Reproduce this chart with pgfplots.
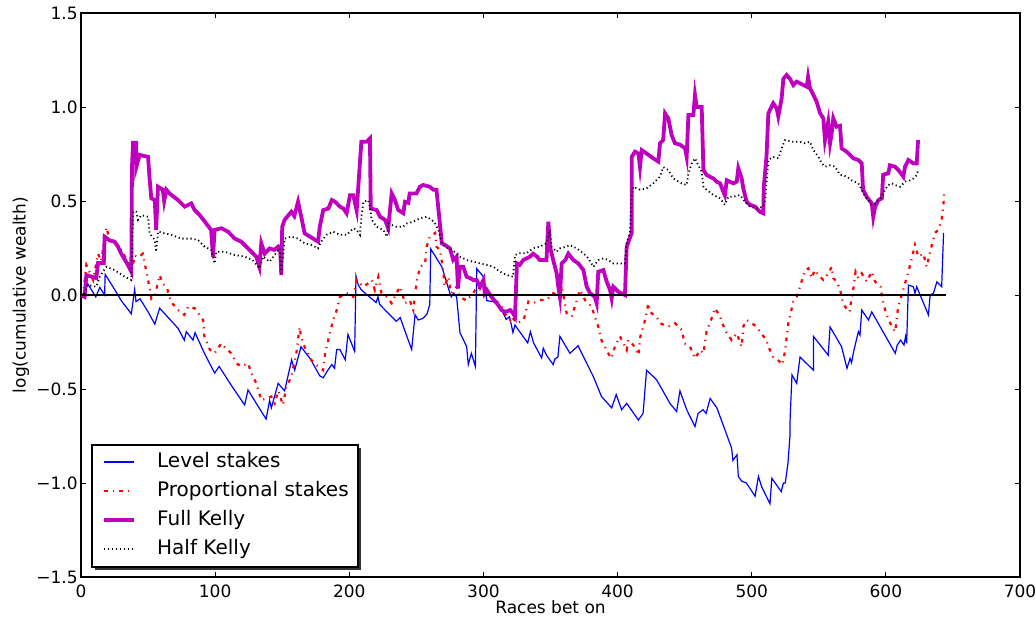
\documentclass[border=0pt]{standalone}
\usepackage{fontspec}
\setmainfont{DejaVu Sans}
\usepackage{pgfplots}
\pgfplotsset{compat=1.18}
\definecolor{mplblue}{rgb}{0,0,1}
\definecolor{mplred}{rgb}{1,0,0}
\definecolor{mplmag}{rgb}{0.75,0,0.75}
\begin{document}
\begin{tikzpicture}
\begin{axis}[
  name=ax,
  scale only axis, width=469.5pt, height=282pt,
  xmin=0, xmax=700, ymin=-1.5, ymax=1.5,
  xtick={0,100,200,300,400,500,600,700},
  xticklabels={0,100,200,300,400,500,600,700},
  ytick={-1.5,-1,-0.5,0,0.5,1,1.5},
  yticklabels={−1.5,−1.0,−0.5,0.0,0.5,1.0,1.5},
  tick align=inside, major tick length=2.5pt,
  tick style={black, line width=0.5pt},
  axis line style={black, line width=0.6pt},
  ticklabel style={font=\fontsize{8.5}{10}\selectfont},
  yticklabel style={inner xsep=1.5pt},
  xticklabel style={yshift=-0.5pt},
  xlabel={Races bet on}, ylabel={log(cumulative wealth)},
  label style={font=\fontsize{8.5}{10}\selectfont},
  xlabel style={at={(axis description cs:0.5,-0.0638)}, anchor=base},
  ylabel style={at={(axis description cs:-0.0639,0.5)}, anchor=center},
  legend style={at={(0.0117,0.234)}, anchor=north west, draw=none, fill=none,
    font=\fontsize{10}{12}\selectfont, inner xsep=5pt, inner ysep=1.5pt,
    nodes={inner sep=2pt, text height=7.3pt, text depth=2.2pt},
    row sep=1pt,
    /tikz/every odd column/.append style={column sep=8.5pt}},
  legend cell align=left,
  legend image code/.code={\draw[#1] (0pt,0pt) -- (15pt,0pt);},
]
\addplot[mplblue, line width=0.6pt] coordinates {
(0,0) (1.5,0) (5,0.06) (11,-0.01) (14,0.04) (17.6,0) (18,0.11) (25,0.03) (30,-0.03) (37.5,-0.10) (40,0.03) (41,-0.035) (44,-0.02) (50,-0.09) (55,-0.155) (58.6,-0.07) (65,-0.12) (72.3,-0.177) (77,-0.24) (78.5,-0.195) (83.5,-0.24) (85,-0.20) (92,-0.31) (99.6,-0.415) (103,-0.38) (112,-0.48) (122,-0.585) (124.5,-0.505) (131,-0.58) (138,-0.66) (140.6,-0.56) (141.9,-0.60) (147,-0.47) (151.8,-0.51) (157,-0.345) (159.3,-0.40) (164,-0.275) (171,-0.34) (178,-0.43) (180.6,-0.44) (184,-0.40) (187,-0.37) (189,-0.39) (190.6,-0.29) (193,-0.29) (197,-0.345) (199,-0.21) (204,-0.30) (205,0.10) (206.7,0.053) (209,0.027) (215,-0.01) (220,-0.04) (221.4,-0.01) (222.6,-0.05) (235,-0.14) (238,-0.12) (240.3,-0.168) (246.5,-0.29) (249,-0.105) (251.5,-0.133) (255,-0.124) (258,-0.10) (260,-0.05) (260.7,0.245) (269,0.15) (275,0.01) (276,-0.01) (278,0.01) (280,-0.01) (282.5,-0.20) (287.5,-0.275) (288.7,-0.37) (291,-0.31) (294,-0.38) (295,0.14) (300,0.097) (302.5,-0.03) (307.4,-0.035) (312.4,-0.062) (317,-0.13) (319.5,-0.115) (322,-0.20) (323.5,-0.16) (333,-0.255) (335,-0.195) (337.4,-0.255) (343.4,-0.335) (344.6,-0.283) (347,-0.32) (352,-0.37) (353.3,-0.34) (355.5,-0.33) (357,-0.22) (364.5,-0.31) (370.5,-0.27) (382,-0.435) (388,-0.54) (395.6,-0.60) (399,-0.53) (403,-0.61) (406.8,-0.576) (415.5,-0.665) (419,-0.63) (421.6,-0.40) (429,-0.45) (439,-0.576) (444,-0.62) (446.5,-0.51) (451.5,-0.61) (457.7,-0.70) (460,-0.63) (463.7,-0.61) (466,-0.63) (469,-0.55) (474,-0.60) (481,-0.736) (485,-0.815) (486,-0.88) (489,-0.85) (490,-0.965) (492.5,-0.99) (496,-1.0) (502.5,-1.07) (505,-0.965) (507.4,-1.02) (513.6,-1.11) (515,-0.975) (522,-1.046) (523.6,-1.0) (525,-1.0) (527,-0.895) (528.5,-0.75) (528.5,-0.68) (530,-0.425) (533.5,-0.47) (536,-0.33) (546,-0.40) (546,-0.22) (557,-0.32) (558.4,-0.17) (567,-0.275) (571,-0.39) (573.3,-0.337) (574.4,-0.36) (576,-0.30) (579.5,-0.195) (580.7,-0.214) (582,-0.08) (587,-0.133) (589.5,-0.09) (607,-0.31) (608.5,-0.266) (611,-0.24) (613.5,-0.266) (614.7,-0.22) (615.5,-0.257) (616.8,0.053) (620.5,0.044) (621.7,0.01) (623,0.044) (631.7,-0.106) (633,0) (635.5,0.01) (638,0.07) (641.6,0.044) (643,0.33)
};
\addlegendentry{Level stakes}
\addplot[mplred, line width=1.1pt, dash pattern=on 1.8pt off 2.6pt on 0.6pt off 2.6pt] coordinates {
(0,0) (1.5,0) (4,0.16) (9,0.08) (12.7,0.22) (15,0.18) (19,0.36) (21.4,0.29) (27.6,0.266) (34,0.19) (37.5,0.115) (40,0.21) (43,0.20) (46,0.22) (50,0.08) (52.5,-0.02) (55,-0.005) (58.6,0.106) (61,0.06) (64,0.04) (67,-0.035) (72.3,-0.08) (77,-0.106) (79.8,-0.062) (84.7,-0.07) (91,-0.133) (92,-0.22) (96,-0.29) (99.6,-0.31) (104.6,-0.257) (108,-0.284) (112,-0.31) (115.8,-0.363) (119.5,-0.38) (124.5,-0.363) (127,-0.416) (130.7,-0.47) (134.4,-0.56) (138,-0.55) (141.9,-0.54) (144.4,-0.576) (147,-0.51) (150.6,-0.585) (153,-0.49) (156.8,-0.435) (160.5,-0.31) (163,-0.17) (164,-0.22) (166.6,-0.275) (171.7,-0.346) (176.7,-0.38) (180.5,-0.40) (182,-0.31) (185.6,-0.20) (188,-0.133) (190.6,-0.08) (193,-0.01) (198,0.01) (203,-0.01) (205.5,0.08) (210.5,0.044) (214,0.062) (216.7,0.08) (219,0.027) (221.6,0.097) (224,0.01) (228,-0.01) (231.6,-0.044) (235,0.01) (238,0.044) (241.5,-0.044) (245,-0.027) (247.7,-0.08) (250,0.06) (252.7,0.15) (256.5,0.168) (257.7,0.257) (260,0.31) (264,0.33) (265,0.257) (267.6,0.24) (270,0.133) (271,0.045) (273.8,0.097) (276,0.01) (280,0.044) (282.5,-0.01) (287.5,-0.03) (292.5,0.01) (295,0.044) (300,0.027) (305,-0.01) (310,-0.035) (313.6,-0.062) (316,-0.10) (320,-0.133) (321,-0.115) (325,-0.15) (330,-0.133) (333.5,-0.035) (337,-0.044) (342,-0.027) (347,-0.027) (352,0.01) (357,-0.01) (358.3,0.05) (362,-0.097) (365.8,-0.115) (372,0.027) (375.7,-0.027) (380.7,-0.062) (383,-0.115) (385.6,-0.168) (388,-0.24) (393,-0.31) (395.5,-0.337) (398,-0.275) (401.8,-0.22) (404.3,-0.257) (406.8,-0.293) (408,-0.24) (411.7,-0.266) (415.5,-0.32) (417,-0.22) (420.5,-0.133) (423,-0.044) (424,-0.09) (429,-0.115) (431.6,-0.15) (437.8,-0.168) (442.8,-0.15) (445.3,-0.168) (447.8,-0.186) (450,-0.257) (454,-0.275) (457.7,-0.337) (461.5,-0.293) (464,-0.31) (466.5,-0.186) (468.9,-0.15) (472.6,-0.07) (476.4,-0.115) (480,-0.186) (485,-0.24) (488.8,-0.204) (492.5,-0.275) (493.7,-0.168) (496.2,-0.133) (500,-0.15) (503.7,-0.168) (506,-0.195) (511,-0.24) (512.4,-0.275) (516,-0.33) (521,-0.355) (523,-0.37) (525,-0.29) (527.3,-0.15) (531,-0.035) (533.5,-0.01) (536,0.044) (539.7,0.133) (542.2,0.142) (544.7,0.09) (547,0.133) (549.7,0.106) (553.4,0.08) (557,0.115) (559.6,0.15) (560.8,0.09) (563.3,0.071) (566,0.027) (567,-0.018) (569.6,-0.062) (573,-0.09) (574.5,-0.01) (576,0.044) (577.4,0.124) (579.5,0.09) (582,0.115) (585.7,0.071) (589.5,0.124) (592,0.071) (596,0.044) (598,-0.044) (600.6,-0.106) (604.4,-0.168) (607,-0.195) (609,-0.07) (611.8,0) (614.3,0.062) (616.8,0.124) (619,0.186) (621.7,0.266) (624.2,0.204) (628,0.22) (630.4,0.15) (633,0.23) (636.6,0.33) (639,0.346) (641.6,0.40) (643,0.49) (643.4,0.54)
};
\addlegendentry{Proportional stakes}
\addplot[mplmag, line width=1.9pt] coordinates {
(0,0) (2.7,-0.01) (4,0.106) (11.4,0.09) (12.7,0.17) (17,0.17) (17.6,0.31) (21.4,0.29) (25,0.284) (27.6,0.257) (30,0.22) (35,0.16) (37.5,0.124) (38,0.68) (38.8,0.81) (41.2,0.81) (41.2,0.68) (43.7,0.745) (50,0.735) (51,0.63) (52.4,0.514) (55,0.505) (56,0.346) (57.4,0.576) (61,0.56) (62,0.50) (63.6,0.56) (66,0.54) (72.3,0.505) (77.3,0.47) (82.2,0.487) (84.7,0.452) (88.5,0.425) (93.4,0.38) (97,0.346) (98.4,0.204) (99.6,0.346) (104.6,0.355) (109.6,0.337) (114.6,0.30) (119.5,0.284) (127,0.23) (130.7,0.204) (133,0.15) (134.4,0.275) (137,0.22) (140.6,0.248) (144,0.24) (147,0.257) (148.5,0.24) (149.3,0.106) (150,0.363) (151.8,0.40) (156.8,0.443) (159,0.42) (161.8,0.496) (164.2,0.416) (166.7,0.328) (176.7,0.284) (178,0.363) (180.6,0.452) (184.4,0.46) (187,0.505) (189.4,0.496) (193,0.47) (195.6,0.46) (198,0.435) (200.5,0.53) (203,0.53) (205.5,0.45) (209,0.815) (213,0.815) (215.4,0.833) (216,0.46) (220.4,0.452) (223,0.416) (226.6,0.40) (229,0.355) (231.6,0.54) (234,0.505) (236.5,0.452) (240.3,0.435) (241.5,0.496) (244,0.49) (245,0.54) (250,0.54) (252.7,0.576) (255,0.585) (260,0.576) (262.6,0.56) (265,0.56) (266.4,0.46) (269,0.275) (271.4,0.266) (275,0.248) (277.5,0.186) (280,0.204) (281,0.035) (282.5,0.15) (285,0.15) (287.5,0.097) (290,0.09) (292.5,0.08) (295,0.08) (297.5,0.044) (300,0.08) (301,0.01) (302.5,0.027) (306,-0.01) (310,-0.044) (313.6,-0.08) (316,-0.09) (320,-0.08) (322,-0.097) (323.5,-0.115) (325,0.168) (327,0.16) (329.7,0.186) (334.7,0.204) (337,0.22) (340,0.204) (342,0.186) (347,0.186) (348.4,0.39) (349.6,0.257) (352,0.186) (354.6,0.115) (355.8,0.044) (357,-0.01) (358.3,0.168) (361,0.186) (363.3,0.22) (367,0.186) (370.7,0.168) (374.5,0.133) (377,0.044) (379.5,0.01) (383,-0.01) (384.4,-0.044) (385.6,0.124) (389.4,0.133) (391.9,0.071) (394.4,0.027) (395.6,-0.018) (396.8,0.044) (400.5,0.018) (405.5,0) (406.8,0.257) (410.5,0.33) (410.5,0.735) (413,0.762) (415.5,0.753) (416.7,0.68) (418,0.77) (421.6,0.753) (426.6,0.727) (430.4,0.71) (431.6,0.807) (434,0.824) (435.4,0.966) (437.8,0.94) (440.3,0.85) (442.8,0.807) (446.5,0.80) (450.3,0.78) (451.5,0.735) (452.8,0.957) (456.5,0.957) (457.7,1.064) (459,1.0) (462.7,1.0) (464,0.665) (466.4,0.638) (471.4,0.62) (473.9,0.603) (476.4,0.594) (478.8,0.55) (480,0.53) (481.4,0.61) (486.3,0.594) (488.8,0.603) (490,0.674) (492.5,0.62) (493.7,0.567) (496.2,0.496) (498.7,0.48) (502.5,0.47) (506,0.443) (508.6,0.435) (509,0.576) (511,0.735) (512.4,0.966) (516,1.02) (518.6,0.993) (519.8,0.95) (522.3,1.046) (523.6,1.15) (526,1.17) (528.5,1.15) (531,1.117) (533.5,1.135) (536,1.126) (541,1.108) (542,1.16) (543.4,1.1) (546,1.064) (548.4,1.028) (551,0.966) (553.4,0.94) (554.6,0.824) (557,0.92) (558.4,0.807) (559.6,0.86) (560.8,0.94) (563.3,0.895) (565.8,0.90) (567,0.78) (570.8,0.762) (573.3,0.745) (575.7,0.727) (579.5,0.718) (582,0.70) (583,0.56) (585.7,0.523) (589.5,0.487) (590.6,0.416) (592,0.47) (594.4,0.505) (597,0.514) (598,0.64) (601.8,0.647) (603,0.69) (606.8,0.683) (609.3,0.665) (613,0.63) (614.3,0.683) (616.8,0.718) (620.5,0.70) (623,0.70) (624,0.824)
};
\addlegendentry{Full Kelly}
\addplot[black, line width=0.9pt, dash pattern=on 0.6pt off 1.4pt] coordinates {
(0,0) (2,0) (5,0.053) (11.4,0.044) (14,0.097) (16.4,0.124) (19,0.15) (25,0.133) (32.6,0.097) (37.5,0.08) (38.8,0.443) (41.2,0.443) (42.5,0.40) (45,0.425) (50,0.416) (51.2,0.328) (55,0.293) (56,0.23) (57.4,0.337) (62.4,0.328) (67.3,0.32) (74.8,0.30) (82.2,0.30) (87.2,0.293) (92.2,0.257) (97.1,0.24) (99.6,0.168) (100.9,0.23) (107,0.23) (114.6,0.213) (122,0.204) (128,0.186) (133,0.142) (135.7,0.204) (140.6,0.177) (144.4,0.213) (148,0.248) (149.3,0.115) (151.8,0.30) (156.8,0.31) (161.8,0.30) (166.7,0.275) (171.7,0.266) (176.7,0.248) (179,0.284) (183,0.32) (188,0.337) (193,0.32) (198,0.32) (203,0.355) (205.5,0.346) (208,0.32) (209,0.416) (210.5,0.496) (214,0.505) (215.4,0.47) (216.7,0.40) (220.4,0.363) (225.4,0.346) (228,0.31) (229,0.38) (235,0.363) (240,0.363) (242.7,0.38) (247.7,0.39) (252.7,0.408) (257.7,0.416) (261.4,0.40) (264,0.38) (266.4,0.346) (269,0.275) (271.4,0.257) (276.3,0.24) (280,0.222) (282.5,0.204) (287.5,0.186) (292.5,0.177) (297.5,0.168) (302.5,0.16) (307.4,0.15) (312.4,0.124) (317.4,0.106) (322,0.097) (323.5,0.213) (327.3,0.222) (332,0.222) (337,0.248) (342,0.257) (347,0.275) (349.6,0.346) (350.8,0.257) (354.6,0.23) (357,0.248) (362,0.257) (364.5,0.266) (369.5,0.248) (374.5,0.222) (378.2,0.195) (382,0.15) (385.6,0.186) (389.4,0.195) (393,0.186) (396.8,0.168) (400.5,0.168) (405.5,0.168) (406.8,0.28) (409.3,0.33) (410.5,0.523) (411.7,0.576) (416.7,0.56) (421.6,0.567) (426.6,0.594) (431.6,0.63) (434,0.68) (437.8,0.665) (441.5,0.62) (447.8,0.594) (451.5,0.585) (452.8,0.647) (455.3,0.70) (457.7,0.727) (460.2,0.69) (462.7,0.656) (464,0.576) (466.4,0.56) (471.4,0.532) (476.4,0.514) (480,0.48) (482.6,0.523) (486.3,0.523) (491.3,0.532) (495,0.496) (498.7,0.47) (503.7,0.46) (508.6,0.47) (510,0.505) (511,0.594) (512.4,0.718) (516,0.735) (519.8,0.727) (522.3,0.78) (524.8,0.824) (531,0.815) (536,0.815) (539.7,0.807) (543.4,0.815) (546,0.77) (549.7,0.735) (552.2,0.70) (554.6,0.683) (558.4,0.69) (562,0.683) (565.8,0.64) (570.8,0.63) (574.5,0.61) (579.5,0.594) (582,0.56) (584.5,0.523) (587,0.505) (589.5,0.48) (592,0.487) (594.4,0.505) (597,0.523) (599.4,0.56) (601.8,0.585) (604.4,0.594) (607,0.585) (610.6,0.576) (614.3,0.603) (618,0.61) (620.5,0.62) (623,0.638) (624,0.665)
};
\addlegendentry{Half Kelly}
\addplot[black, line width=0.6pt, forget plot] coordinates {(0,0) (644.5,0)};
\fill[black!80] (axis description cs:0.0149,0.0124) rectangle (axis description cs:0.2982,0.2287);
\filldraw[fill=white, draw=black, line width=0.6pt] (axis description cs:0.0117,0.0177) rectangle (axis description cs:0.2950,0.2340);
\end{axis}
\pgfresetboundingbox
\path ([shift={(-40.5pt,-22pt)}]ax.south west) rectangle ([shift={(8pt,6.5pt)}]ax.north east);
\end{tikzpicture}
\end{document}
